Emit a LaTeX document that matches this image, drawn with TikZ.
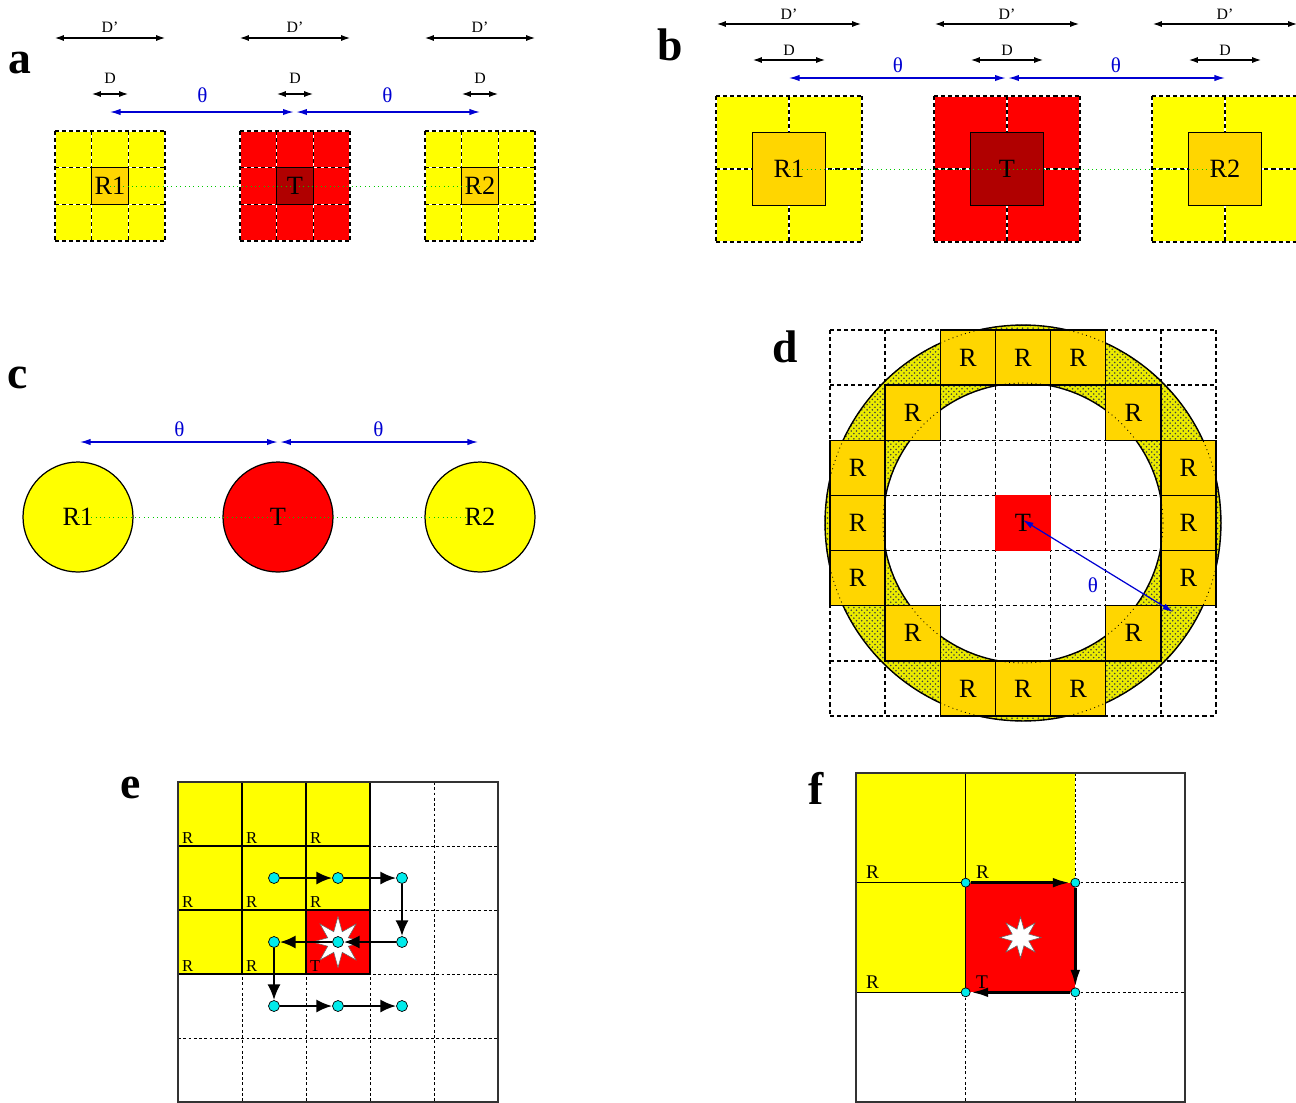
\documentclass[tikz,border=0pt]{standalone}
\usepackage{fontspec}
\setmainfont{Liberation Serif}
\usetikzlibrary{positioning, arrows.meta, shapes.geometric, patterns}
\definecolor{cellyellow}{RGB}{255,255,0}
\definecolor{cellgold}{RGB}{255,214,0}
\definecolor{cellred}{RGB}{255,0,0}
\definecolor{darkred}{RGB}{176,0,0}
\definecolor{thetablue}{RGB}{0,0,210}
\definecolor{dotcyan}{RGB}{0,235,235}
\definecolor{linegreen}{RGB}{0,200,0}

\begin{document}
\begin{tikzpicture}[x=0.02cm, y=-0.02cm,
       panel/.style = {font=\fontsize{26}{28}\selectfont\bfseries, inner sep=0pt},
    dimarrow/.style = {<->, >={Latex[length=5pt,width=3.4pt]}, line width=0.6pt},
  thetaarrow/.style = {<->, >={Latex[length=6pt,width=3.6pt]}, line width=0.7pt, thetablue},
    dimlabel/.style = {font=\fontsize{9}{10}\selectfont, inner sep=1pt},
  thetalabel/.style = {font=\fontsize{12}{14}\selectfont, text=thetablue, inner sep=1pt},
   gridwhite/.style = {white, line width=0.8pt},
    griddash/.style = {black, line width=0.8pt, dash pattern=on 2.3pt off 1.7pt},
    finedash/.style = {black, line width=0.45pt, dash pattern=on 1.6pt off 1.4pt},
    centresq/.style = {rectangle, draw, line width=0.8pt, inner sep=0pt},
     bigtext/.style = {font=\fontsize{15}{17}\selectfont, inner sep=0pt},
    greendot/.style = {linegreen, dotted, line width=0.5pt},
       ringc/.style = {black, dotted, line width=0.5pt},
         rsq/.style = {rectangle, draw, line width=0.8pt, fill=cellgold, minimum size=1.103cm, inner sep=0pt, font=\fontsize{15}{17}\selectfont},
    smallrlab/.style = {font=\fontsize{9.5}{11}\selectfont, inner sep=1pt, anchor=south west},
      midrlab/.style = {font=\fontsize{11}{13}\selectfont, inner sep=1pt, anchor=south west},
    cyandot/.style = {circle, draw, line width=0.4pt, fill=dotcyan, inner sep=0pt, minimum size=0.22cm},
    whitestar/.style = {star, star points=8, star point ratio=2.3, fill=white, draw=black!60, line width=0.3pt, inner sep=0pt},
   patharrow/.style = {-{Latex[length=9pt,width=7.5pt]}, line width=1.4pt},
  thickarrow/.style = {-{Latex[length=10pt,width=5.5pt]}, line width=1.8pt}
                        ]
\useasboundingbox (0,0) rectangle (1296,1103);

%% panel a
\node[panel] (la) at (20,63) {a};
\foreach \cx/\fc [count=\n] in {110/cellyellow, 295/cellred, 480/cellyellow} {
  \fill[\fc] (\cx-55,131) rectangle (\cx+55,241);
  \foreach \k in {0,...,3} {
    \draw[gridwhite] (\cx-55+36.667*\k,131) -- ++(0,110);
    \draw[gridwhite] (\cx-55,131+36.667*\k) -- ++(110,0);
    \draw[griddash] (\cx-55+36.667*\k,131) -- ++(0,110);
    \draw[griddash] (\cx-55,131+36.667*\k) -- ++(110,0);
  }
  \coordinate (aDpL\n) at (\cx-55,38);
  \coordinate (aDpR\n) at (\cx+55,38);
  \draw[dimarrow] (aDpL\n) -- node[dimlabel, above=2pt] {D'} (aDpR\n);
  \coordinate (aDL\n) at (\cx-18,94);
  \coordinate (aDR\n) at (\cx+18,94);
  \draw[dimarrow] (aDL\n) -- node[dimlabel, above=4.5pt] {D} (aDR\n);
  \coordinate (aTh\n) at (\cx,112);
}
\node[centresq, fill=cellgold, minimum size=0.733cm] (aR1) at (110,186) {};
\node[centresq, fill=darkred, minimum size=0.733cm] (aT) at (295,186) {};
\node[centresq, fill=cellgold, minimum size=0.733cm] (aR2) at (480,186) {};
\draw[greendot] (aR1.center) -- (aR2.center);
\node[bigtext] (aR1txt) at (aR1) {R1};
\node[bigtext] (aTtxt) at (aT) {T};
\node[bigtext] (aR2txt) at (aR2) {R2};
\draw[thetaarrow, shorten >=0.8pt] (aTh1) -- node[thetalabel, above=4pt] {θ} (aTh2);
\draw[thetaarrow, shorten <=0.8pt] (aTh2) -- node[thetalabel, above=4pt] {θ} (aTh3);

%% panel b
\node[panel] (lb) at (670,45) {b};
\foreach \cx/\fc [count=\n] in {789/cellyellow, 1007/cellred, 1225/cellyellow} {
  \fill[\fc] (\cx-73,96) rectangle (\cx+73,242);
  \foreach \k in {0,1,2} {
    \draw[gridwhite] (\cx-73+73*\k,96) -- ++(0,146);
    \draw[gridwhite] (\cx-73,96+73*\k) -- ++(146,0);
    \draw[griddash] (\cx-73+73*\k,96) -- ++(0,146);
    \draw[griddash] (\cx-73,96+73*\k) -- ++(146,0);
  }
  \coordinate (bDpL\n) at (\cx-72,24);
  \coordinate (bDpR\n) at (\cx+72,24);
  \draw[dimarrow] (bDpL\n) -- node[dimlabel, above=1.5pt] {D'} (bDpR\n);
  \coordinate (bDL\n) at (\cx-36,60);
  \coordinate (bDR\n) at (\cx+36,60);
  \draw[dimarrow] (bDL\n) -- node[dimlabel, above=1.5pt] {D} (bDR\n);
  \coordinate (bTh\n) at (\cx,78);
}
\node[centresq, fill=cellgold, minimum size=1.46cm] (bR1) at (789,169) {};
\node[centresq, fill=darkred, minimum size=1.46cm] (bT) at (1007,169) {};
\node[centresq, fill=cellgold, minimum size=1.46cm] (bR2) at (1225,169) {};
\draw[greendot] (bR1.center) -- (bR2.center);
\node[bigtext] (bR1txt) at (bR1) {R1};
\node[bigtext] (bTtxt) at (bT) {T};
\node[bigtext] (bR2txt) at (bR2) {R2};
\draw[thetaarrow, shorten >=0.8pt] (bTh1) -- node[thetalabel, above=1.5pt] {θ} (bTh2);
\draw[thetaarrow, shorten <=0.8pt] (bTh2) -- node[thetalabel, above=1.5pt] {θ} (bTh3);

%% panel c
\node[panel] (lc) at (18,378) {c};
\node[circle, draw, line width=0.7pt, fill=cellyellow, minimum size=2.2cm] (cR1) at (78,517) {};
\node[circle, draw, line width=0.7pt, fill=cellred, minimum size=2.2cm] (cT) at (278,517) {};
\node[circle, draw, line width=0.7pt, fill=cellyellow, minimum size=2.2cm] (cR2) at (480,517) {};
\draw[greendot] (cR1.center) -- (cR2.center);
\node[bigtext] (cR1txt) at (cR1) {R1};
\node[bigtext] (cTtxt) at (cT) {T};
\node[bigtext] (cR2txt) at (cR2) {R2};
\coordinate (cTh1) at (80,442);
\coordinate (cTh2) at (279,442);
\coordinate (cTh3) at (478,442);
\draw[thetaarrow, shorten >=0.8pt] (cTh1) -- node[thetalabel, above=1.5pt] {θ} (cTh2);
\draw[thetaarrow, shorten <=0.8pt] (cTh2) -- node[thetalabel, above=1.5pt] {θ} (cTh3);

%% panel d
\node[panel] (ld) at (785,347) {d};
\foreach \k in {0,...,7} {
  \draw[griddash] (830+55.143*\k,330) -- ++(0,386);
  \draw[griddash] (830,330+55.143*\k) -- ++(386,0);
}
\coordinate (dC) at (1023,523);
\fill[cellyellow!92!black, even odd rule] (dC) circle[radius=3.96cm] (dC) circle[radius=2.8cm];
\fill[pattern=crosshatch dots, pattern color=black!75, even odd rule] (dC) circle[radius=3.96cm] (dC) circle[radius=2.8cm];
\draw[line width=0.8pt] (dC) circle[radius=3.96cm] (dC) circle[radius=2.8cm];
\foreach \c/\r [count=\n] in {2/0,3/0,4/0,1/1,5/1,0/2,6/2,0/3,6/3,0/4,6/4,1/5,5/5,2/6,3/6,4/6}
  \node[rsq] (dR\n) at (857.57+55.143*\c, 357.57+55.143*\r) {R};
\draw[ringc] (dC) circle[radius=3.96cm];
\draw[ringc] (dC) circle[radius=2.8cm];
\node[rectangle, fill=cellred, minimum size=1.103cm, inner sep=0pt, font=\fontsize{15}{17}\selectfont] (dT) at (dC) {T};
\coordinate (dThEnd) at (1173,612);
\draw[thetaarrow] (1023,520) -- (dThEnd);
\node[thetalabel] (dTh) at (1093,585) {θ};

%% panel e
\node[panel] (le) at (131,788) {e};
\fill[cellyellow] (178,782) rectangle (370,974);
\fill[cellred] (306,910) rectangle (370,974);
\foreach \k in {1,...,4} {
  \draw[finedash] (178+64*\k,782) -- ++(0,320);
  \draw[finedash] (178,782+64*\k) -- ++(320,0);
}
\foreach \k in {0,...,3} {
  \draw[line width=0.6pt] (178+64*\k,782) -- ++(0,192);
  \draw[line width=0.6pt] (178,782+64*\k) -- ++(192,0);
}
\draw[line width=0.8pt, black!80] (178,782) rectangle (498,1102);
\foreach \c/\r in {0/0,1/0,2/0,0/1,1/1,2/1,0/2,1/2}
  \node[smallrlab] at (180+64*\c, 846+64*\r) {R};
\node[smallrlab] (eTlab) at (308,974) {T};
\node[whitestar, minimum size=1.02cm] (eStar) at (338,942) {};
\foreach \c in {1,2,3}
  \foreach \r in {1,2,3}
    \node[cyandot] (e\c\r) at (210+64*\c, 814+64*\r) {};
\draw[patharrow] (e11) -- (e21);
\draw[patharrow] (e21) -- (e31);
\draw[patharrow] (e31) -- (e32);
\draw[patharrow] (e32) -- (e22);
\draw[patharrow] (e22) -- (e12);
\draw[patharrow] (e12) -- (e13);
\draw[patharrow] (e13) -- (e23);
\draw[patharrow] (e23) -- (e33);

%% panel f
\node[panel] (lf) at (816,788) {f};
\fill[cellyellow] (856,773) rectangle (1075.33,882.67);
\fill[cellyellow] (856,882.67) rectangle (965.67,992.33);
\fill[cellred] (965.67,882.67) rectangle (1075.33,992.33);
\draw[finedash] (1075.33,773) -- (1075.33,882.67);
\draw[finedash] (1075.33,882.67) -- (1185,882.67);
\draw[finedash] (1075.33,992.33) -- (1185,992.33);
\draw[finedash] (965.67,992.33) -- (965.67,1102);
\draw[finedash] (1075.33,992.33) -- (1075.33,1102);
\draw[line width=0.6pt] (965.67,773) -- (965.67,992.33);
\draw[line width=0.6pt] (856,882.67) -- (965.67,882.67);
\draw[line width=0.5pt] (856,992.33) -- (965.67,992.33);
\draw[line width=0.8pt, black!80] (856,773) rectangle (1185,1102);
\node[midrlab] at (864,881) {R};
\node[midrlab] at (974,881) {R};
\node[midrlab] at (864,990.5) {R};
\node[midrlab] (fTlab) at (974,990.5) {T};
\node[whitestar, minimum size=0.82cm] (fStar) at (1020.5,937.5) {};
\node[cyandot, minimum size=0.18cm] (f1) at (965.67,882.67) {};
\node[cyandot, minimum size=0.18cm] (f2) at (1075.33,882.67) {};
\node[cyandot, minimum size=0.18cm] (f3) at (1075.33,992.33) {};
\node[cyandot, minimum size=0.18cm] (f4) at (965.67,992.33) {};
\draw[thickarrow] (f1) -- (f2);
\draw[thickarrow] (f2) -- (f3);
\draw[thickarrow] (f3) -- (f4);
\end{tikzpicture}
\end{document}
